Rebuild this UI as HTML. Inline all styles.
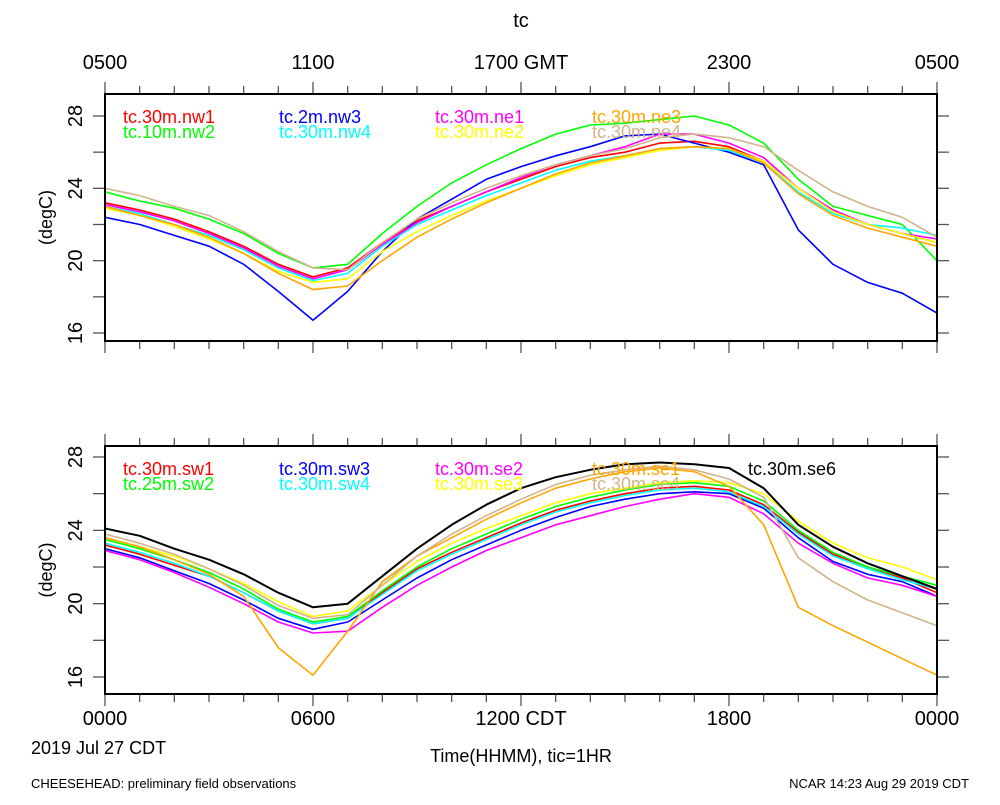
<!DOCTYPE html>
<html><head><meta charset="utf-8"><style>
body{margin:0;background:#fff;}
svg text{font-family:"Liberation Sans",sans-serif;}
</style></head><body>
<svg id="c" width="1000" height="800" xmlns="http://www.w3.org/2000/svg"></svg>
<script>
const hours=[0,1,2,3,4,5,6,7,8,9,10,11,12,13,14,15,16,17,18,19,20,21,22,23,24];
const topNames=["tc.30m.nw1","tc.10m.nw2","tc.2m.nw3","tc.30m.nw4","tc.30m.ne1","tc.30m.ne2","tc.30m.ne3","tc.30m.ne4"];
const topColors=["#ff0000","#00ff00","#0000ff","#00ffff","#ff00ff","#ffff00","#ffa500","#d2b48c"];
const nw1=[23.2,22.8,22.3,21.6,20.8,19.8,19.1,19.6,21.0,22.2,23.0,23.8,24.5,25.2,25.7,26.0,26.5,26.6,26.3,25.5,24.0,22.8,22.0,21.5,21.0];
const nw2=[23.8,23.3,22.9,22.3,21.5,20.4,19.6,19.8,21.5,23.0,24.3,25.3,26.2,27.0,27.5,27.6,27.8,28.0,27.5,26.5,24.5,23.0,22.5,22.0,20.0];
const nw3=[22.4,22.0,21.4,20.8,19.8,18.3,16.7,18.3,20.5,22.3,23.4,24.5,25.2,25.8,26.3,26.9,27.0,26.5,26.0,25.3,21.7,19.8,18.8,18.2,17.1];
const nw4=[23.0,22.6,22.0,21.4,20.6,19.6,18.9,19.3,20.8,22.0,22.8,23.6,24.3,25.0,25.5,25.8,26.2,26.3,26.1,25.4,23.8,22.6,22.0,21.8,21.4];
const ne1=[23.1,22.7,22.2,21.5,20.7,19.7,19.0,19.5,20.9,22.1,23.0,23.8,24.6,25.3,25.8,26.3,27.0,27.0,26.5,25.7,24.0,22.8,22.0,21.5,21.2];
const ne2=[22.9,22.5,21.9,21.2,20.4,19.4,18.8,19.0,20.5,21.6,22.5,23.3,24.0,24.7,25.3,25.7,26.1,26.3,26.2,25.5,24.0,22.7,22.0,21.5,21.0];
const ne3=[23.0,22.5,22.0,21.3,20.4,19.3,18.4,18.6,20.0,21.3,22.3,23.2,24.0,24.8,25.4,25.8,26.2,26.3,26.2,25.4,23.7,22.5,21.8,21.3,20.8];
const ne4=[24.0,23.6,23.0,22.5,21.6,20.5,19.6,19.5,21.0,22.3,23.2,24.0,24.7,25.3,25.8,26.2,26.8,27.0,26.8,26.3,25.0,23.8,23.0,22.4,21.3];
const botNames=["tc.30m.sw1","tc.25m.sw2","tc.30m.sw3","tc.30m.sw4","tc.30m.se2","tc.30m.se3","tc.30m.se1","tc.30m.se4","tc.30m.se6"];
const botColors=["#ff0000","#00ff00","#0000ff","#00ffff","#ff00ff","#ffff00","#ffa500","#d2b48c","#000000"];
const sw1=[23.2,22.7,22.1,21.5,20.6,19.6,18.9,19.2,20.6,21.9,22.8,23.6,24.4,25.1,25.6,26.0,26.3,26.4,26.2,25.4,23.9,22.7,22.0,21.4,20.6];
const sw2=[23.5,23.0,22.4,21.7,20.8,19.7,19.0,19.3,20.7,22.0,23.0,23.8,24.6,25.3,25.8,26.2,26.5,26.6,26.4,25.6,24.0,22.8,22.0,21.5,21.0];
const sw3=[23.0,22.5,21.8,21.1,20.2,19.2,18.6,19.0,20.2,21.4,22.4,23.2,24.0,24.7,25.3,25.7,26.0,26.1,26.0,25.2,23.6,22.3,21.6,21.2,20.4];
const sw4=[23.3,22.8,22.2,21.5,20.6,19.6,18.9,19.2,20.5,21.8,22.7,23.5,24.3,25.0,25.5,25.9,26.2,26.3,26.1,25.3,23.8,22.6,21.9,21.3,20.8];
const se2=[22.9,22.4,21.7,20.9,20.0,19.0,18.4,18.5,19.8,21.0,22.0,22.9,23.6,24.3,24.8,25.3,25.7,26.0,25.8,24.9,23.3,22.2,21.4,21.0,20.4];
const se3=[23.6,23.1,22.6,21.9,21.1,20.1,19.3,19.6,21.0,22.3,23.3,24.1,24.8,25.5,26.0,26.3,26.6,26.7,26.6,26.0,24.5,23.3,22.5,22.0,21.3];
const se1=[23.6,23.1,22.4,21.6,20.4,17.6,16.1,18.5,21.2,22.6,23.6,24.6,25.5,26.3,26.8,27.2,27.4,27.2,26.4,24.3,19.8,18.8,17.9,17.0,16.1];
const se4=[23.8,23.3,22.7,21.9,21.0,19.9,19.2,19.4,21.0,22.6,23.8,24.8,25.7,26.5,27.0,27.3,27.5,27.3,26.8,25.8,22.5,21.2,20.2,19.5,18.8];
const se6=[24.1,23.7,23.0,22.4,21.6,20.6,19.8,20.0,21.5,23.0,24.3,25.4,26.3,26.9,27.3,27.6,27.7,27.6,27.4,26.3,24.3,23.1,22.2,21.5,20.8];
const topSeries=[nw1,nw2,nw3,nw4,ne1,ne2,ne3,ne4];
const botSeries=[sw1,sw2,sw3,sw4,se2,se3,se1,se4,se6];
const yTicks=[16,18,20,22,24,26,28];
const yLabels=["16","20","24","28"];
const topXLabels=["0500","1100","1700 GMT","2300","0500"];
const botXLabels=["0000","0600","1200 CDT","1800","0000"];

const NS="http://www.w3.org/2000/svg";
const svg=document.getElementById('c');
function mk(tag,attrs,parent){const e=document.createElementNS(NS,tag);for(const k in attrs)e.setAttribute(k,attrs[k]);(parent||svg).appendChild(e);return e;}
const X0=105,X1=937;
const xs=h=>X0+(X1-X0)*h/24;

function panel(top,bottom,y16,y28,series,colors,names,pname){
  const ys=v=>y16+(y28-y16)*(v-16)/12;
  const g=mk('g',{});
  
  
  for(let h=0;h<=24;h++){
    const len=h%6===0?12:8;
    const t1=mk('line',{x1:xs(h),x2:xs(h),y1:top,y2:top-len,stroke:'#555','stroke-width':1.3},g);
    
    
    const t2=mk('line',{x1:xs(h),x2:xs(h),y1:bottom,y2:bottom+len,stroke:'#555','stroke-width':1.3},g);
    
    
  }
  yTicks.forEach(v=>{
    const t=mk('line',{x1:X0,x2:X0-12,y1:ys(v),y2:ys(v),stroke:'#555','stroke-width':1.3},g);
    
    
    const t2=mk('line',{x1:X1,x2:X1+12,y1:ys(v),y2:ys(v),stroke:'#555','stroke-width':1.3},g);
    
    
  });
  yLabels.forEach(s=>{
    const y=ys(+s);
    const t=mk('text',{x:0,y:0,transform:`translate(82,${y}) rotate(-90)`,'text-anchor':'middle','font-size':20},g);
    t.textContent=s;
    
    
  });
  const yt=mk('text',{transform:`translate(52,${(top+bottom)/2}) rotate(-90)`,'text-anchor':'middle','font-size':18},g);
  yt.textContent='(degC)';
  
  
  const cid='clip'+pname;
  const cp=mk('clipPath',{id:cid},g);mk('rect',{x:X0,y:top,width:X1-X0,height:bottom-top},cp);
  series.forEach((s,i)=>{
    const d=s.map((v,j)=>(j?'L':'M')+xs(hours[j]).toFixed(1)+','+ys(v).toFixed(1)).join('');
    const p=mk('path',{d:d,fill:'none',stroke:colors[i],'stroke-width':colors[i]==='#000000'?2:1.6,'clip-path':`url(#${cid})`,'stroke-linejoin':'round'},g);
    
    
  });
  const fr=mk('rect',{x:X0,y:top,width:X1-X0,height:bottom-top,fill:'none',stroke:'#000','stroke-width':2},g);
  
  
  const colX=[123,279,435,592,748];
  names.forEach((n,i)=>{
    const col=Math.floor(i/2),row=i%2;
    const t=mk('text',{x:colX[col],y:top+29+row*15,fill:colors[i],'font-size':18},g);
    t.textContent=n;
    
    
  });
}
panel(94,341,333,116,topSeries,topColors,topNames,'top-panel');
panel(446,694,677,457,botSeries,botColors,botNames,'bottom-panel');

function txt(s,x,y,size,anchor,name){const t=mk('text',{x:x,y:y,'font-size':size,'text-anchor':anchor});t.textContent=s;}
txt('tc',521,27,20,'middle','chart-title');
topXLabels.forEach((s,i)=>txt(s,xs(i*6),69,20,'middle','top-x-tick-label'));
botXLabels.forEach((s,i)=>txt(s,xs(i*6),725,20,'middle','x-tick-label'));
txt('2019 Jul 27 CDT',31,754,18,'start','date-label');
txt('Time(HHMM), tic=1HR',521,762,18,'middle','x-axis-title');
txt('CHEESEHEAD: preliminary field observations',31,788,13,'start','footer-left');
txt('NCAR 14:23 Aug 29 2019 CDT',969,788,13,'end','footer-right');
</script>
</body></html>
